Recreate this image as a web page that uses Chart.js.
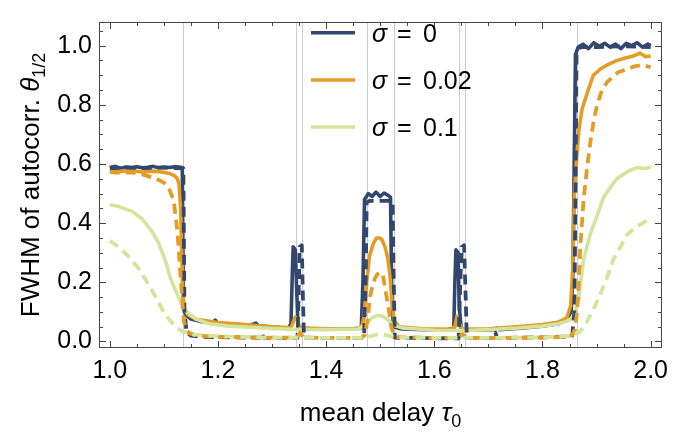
<!DOCTYPE html>
<html>
<head>
<meta charset="utf-8">
<script src="https://cdn.jsdelivr.net/npm/chart.js@4.4.1/dist/chart.umd.min.js"></script>
<style>
  body { margin: 0; background: #fff; }
  canvas { display: block; }
</style>
</head>
<body>
<canvas id="c1" width="695" height="437"></canvas>
<script>
// sigma values shown in the legend
var sigmas = ['0', '0.02', '0.1'];
var xTicks = [1.0, 1.2, 1.4, 1.6, 1.8, 2.0];
var yTicks = [0.0, 0.2, 0.4, 0.6, 0.8, 1.0];
// thin grey reference lines
var markX = [1.136, 1.344, 1.356, 1.475, 1.525, 1.645, 1.657, 1.864];

// sigma = 0, solid
var navySolidX = [1.000,1.010,1.020,1.030,1.040,1.050,1.060,1.070,1.080,1.090,1.100,1.110,1.120,1.130,1.134,1.136,1.140,1.150,1.170,1.190,1.195,1.200,1.230,1.260,1.270,1.275,1.300,1.330,1.335,1.337,1.339,1.343,1.346,1.348,1.360,1.400,1.440,1.465,1.468,1.471,1.478,1.485,1.492,1.500,1.507,1.514,1.519,1.521,1.524,1.540,1.580,1.620,1.636,1.638,1.640,1.644,1.646,1.650,1.680,1.710,1.715,1.720,1.760,1.800,1.830,1.845,1.853,1.856,1.858,1.861,1.866,1.875,1.885,1.895,1.905,1.915,1.925,1.935,1.945,1.955,1.965,1.975,1.985,1.995,2.000];
var navySolidY = [0.588,0.592,0.586,0.590,0.588,0.591,0.587,0.589,0.592,0.587,0.590,0.588,0.591,0.589,0.588,0.120,0.090,0.076,0.067,0.064,0.072,0.062,0.058,0.055,0.062,0.054,0.049,0.045,0.060,0.200,0.320,0.310,0.150,0.050,0.044,0.042,0.042,0.045,0.200,0.480,0.500,0.490,0.505,0.490,0.502,0.495,0.488,0.200,0.050,0.042,0.040,0.039,0.045,0.200,0.310,0.300,0.120,0.040,0.038,0.040,0.046,0.040,0.045,0.052,0.060,0.075,0.100,0.200,0.500,0.970,0.995,1.005,0.990,1.010,0.998,1.008,0.995,1.005,0.990,1.008,1.000,1.010,0.995,1.005,1.000];

// sigma = 0, dashed
var navyDashX = [1.000,1.030,1.060,1.090,1.120,1.136,1.138,1.142,1.150,1.170,1.200,1.250,1.278,1.281,1.284,1.300,1.340,1.347,1.349,1.351,1.355,1.357,1.359,1.400,1.440,1.470,1.473,1.475,1.480,1.490,1.500,1.510,1.520,1.523,1.525,1.527,1.560,1.600,1.645,1.648,1.651,1.655,1.658,1.660,1.700,1.710,1.713,1.716,1.760,1.800,1.840,1.855,1.859,1.861,1.863,1.870,1.900,1.950,2.000];
var navyDashY = [0.585,0.588,0.586,0.588,0.586,0.585,0.100,0.030,0.020,0.016,0.015,0.013,0.013,0.030,0.013,0.012,0.012,0.012,0.150,0.320,0.325,0.150,0.013,0.012,0.012,0.012,0.200,0.470,0.475,0.475,0.475,0.475,0.475,0.470,0.200,0.013,0.012,0.011,0.011,0.200,0.320,0.325,0.150,0.012,0.012,0.012,0.030,0.012,0.013,0.014,0.016,0.020,0.100,0.500,0.970,0.995,0.995,0.998,0.995];

// sigma = 0.02, solid
var orangeSolidX = [1.000,1.020,1.040,1.060,1.080,1.100,1.110,1.120,1.125,1.128,1.131,1.133,1.135,1.138,1.145,1.160,1.200,1.250,1.300,1.335,1.340,1.343,1.347,1.352,1.400,1.450,1.465,1.470,1.475,1.480,1.487,1.493,1.498,1.503,1.509,1.514,1.518,1.522,1.526,1.535,1.580,1.630,1.638,1.642,1.646,1.652,1.700,1.750,1.800,1.830,1.845,1.852,1.856,1.859,1.862,1.867,1.873,1.882,1.894,1.907,1.920,1.938,1.953,1.968,1.980,1.990,2.000];
var orangeSolidY = [0.578,0.575,0.578,0.573,0.576,0.572,0.568,0.560,0.550,0.530,0.450,0.300,0.160,0.110,0.090,0.075,0.064,0.057,0.050,0.046,0.070,0.082,0.070,0.046,0.043,0.042,0.046,0.080,0.200,0.287,0.330,0.350,0.350,0.345,0.319,0.280,0.224,0.130,0.070,0.050,0.043,0.041,0.050,0.085,0.060,0.042,0.043,0.050,0.057,0.066,0.080,0.120,0.250,0.500,0.590,0.710,0.784,0.836,0.900,0.921,0.935,0.950,0.958,0.965,0.975,0.963,0.965];

// sigma = 0.02, dashed
var orangeDashX = [1.000,1.020,1.040,1.060,1.085,1.100,1.109,1.118,1.125,1.131,1.137,1.146,1.160,1.200,1.300,1.345,1.352,1.358,1.400,1.465,1.472,1.477,1.481,1.486,1.490,1.495,1.500,1.505,1.509,1.515,1.521,1.528,1.600,1.645,1.652,1.660,1.700,1.800,1.845,1.855,1.860,1.864,1.867,1.870,1.876,1.882,1.888,1.895,1.901,1.910,1.920,1.940,1.955,1.970,1.985,2.000];
var orangeDashY = [0.573,0.570,0.572,0.565,0.551,0.537,0.520,0.477,0.372,0.214,0.066,0.029,0.020,0.016,0.013,0.013,0.030,0.013,0.012,0.012,0.023,0.080,0.150,0.190,0.213,0.228,0.234,0.225,0.180,0.118,0.044,0.015,0.012,0.012,0.025,0.012,0.012,0.013,0.016,0.022,0.040,0.100,0.200,0.320,0.480,0.580,0.667,0.750,0.800,0.850,0.878,0.910,0.920,0.930,0.935,0.927];

// sigma = 0.1, solid
var greenSolidX = [1.000,1.017,1.041,1.060,1.078,1.091,1.103,1.112,1.122,1.131,1.140,1.159,1.183,1.220,1.260,1.300,1.340,1.400,1.460,1.475,1.485,1.495,1.505,1.515,1.525,1.540,1.600,1.640,1.660,1.700,1.750,1.800,1.830,1.845,1.855,1.862,1.867,1.870,1.876,1.888,1.901,1.913,1.925,1.938,1.956,1.974,1.990,2.000];
var greenSolidY = [0.462,0.456,0.440,0.414,0.372,0.330,0.272,0.214,0.171,0.134,0.103,0.076,0.060,0.052,0.048,0.044,0.041,0.040,0.042,0.060,0.080,0.088,0.085,0.072,0.055,0.046,0.038,0.037,0.037,0.040,0.045,0.052,0.060,0.068,0.080,0.110,0.140,0.190,0.277,0.361,0.425,0.488,0.520,0.551,0.573,0.588,0.585,0.590];

// sigma = 0.1, dashed
var greenDashX = [1.000,1.017,1.035,1.054,1.072,1.085,1.097,1.109,1.122,1.134,1.157,1.200,1.300,1.470,1.490,1.500,1.510,1.530,1.700,1.800,1.851,1.870,1.882,1.894,1.907,1.919,1.931,1.944,1.956,1.974,1.993,2.000];
var greenDashY = [0.340,0.319,0.287,0.245,0.192,0.150,0.108,0.076,0.050,0.034,0.023,0.018,0.013,0.012,0.022,0.025,0.022,0.013,0.012,0.014,0.018,0.034,0.066,0.108,0.161,0.214,0.277,0.319,0.361,0.388,0.409,0.400];

var navy = '#33476e';
var orange = '#e39d26';
var green = '#d4e49b';
var fontFamily = '"Liberation Sans", Arial, sans-serif';

function makeSet(label, xs, ys, color, dashed, order) {
    return {
        label: label,
        data: xs.map(function (x, i) { return { x: x, y: ys[i] }; }),
        borderColor: color,
        borderWidth: dashed ? 3.8 : 3.6,
        borderDash: dashed ? [10, 6] : [],
        borderCapStyle: 'butt',
        borderJoinStyle: 'round',
        pointRadius: 0,
        tension: 0,
        fill: false,
        order: order
    };
}

// draws a run of text pieces (for italic symbols and subscripts), centred at x
function drawRich(ctx, parts, cx, y) {
    var total = 0;
    parts.forEach(function (p) { ctx.font = p.font; total += ctx.measureText(p.text).width; });
    var x = cx - total / 2;
    parts.forEach(function (p) {
        ctx.font = p.font;
        ctx.fillText(p.text, x, y + (p.dy || 0));
        x += ctx.measureText(p.text).width;
    });
}

var framePlugin = {
    id: 'frame',
    beforeDatasetsDraw: function (chart) {
        var ctx = chart.ctx, a = chart.chartArea, xs = chart.scales.x;
        ctx.save();
        ctx.strokeStyle = '#cccccc';
        ctx.lineWidth = 1;
        markX.forEach(function (v) {
            var px = Math.round(xs.getPixelForValue(v)) + 0.5;
            ctx.beginPath();
            ctx.moveTo(px, a.top);
            ctx.lineTo(px, a.bottom);
            ctx.stroke();
        });
        ctx.restore();
    },
    afterDraw: function (chart) {
        var ctx = chart.ctx, a = chart.chartArea;
        var xs = chart.scales.x, ys = chart.scales.y;
        ctx.save();
        ctx.strokeStyle = '#454545';
        ctx.lineWidth = 1;
        ctx.strokeRect(a.left + 0.5, a.top + 0.5, a.right - a.left - 1, a.bottom - a.top - 1);
        ctx.beginPath();
        for (var i = 0; i <= 20; i++) {
            var v = 1 + i * 0.05;
            var px = Math.round(xs.getPixelForValue(v)) + 0.5;
            var len = (i % 4 === 0) ? 7 : 4;
            ctx.moveTo(px, a.bottom); ctx.lineTo(px, a.bottom - len);
            ctx.moveTo(px, a.top); ctx.lineTo(px, a.top + len);
        }
        for (var j = 0; j <= 21; j++) {
            var w = j * 0.05;
            var py = Math.round(ys.getPixelForValue(w)) + 0.5;
            var l2 = (j % 4 === 0) ? 7 : 4;
            ctx.moveTo(a.left, py); ctx.lineTo(a.left + l2, py);
            ctx.moveTo(a.right, py); ctx.lineTo(a.right - l2, py);
        }
        ctx.stroke();

        // axis titles
        ctx.fillStyle = '#000';
        ctx.textBaseline = 'alphabetic';
        ctx.textAlign = 'left';
        drawRich(ctx, [
            { text: 'mean delay ', font: '26px ' + fontFamily },
            { text: 'τ', font: 'italic 26px ' + fontFamily },
            { text: '0', font: '18px ' + fontFamily, dy: 6 }
        ], (a.left + a.right) / 2, 421);
        ctx.save();
        ctx.translate(39, (a.top + a.bottom) / 2);
        ctx.rotate(-Math.PI / 2);
        drawRich(ctx, [
            { text: 'FWHM of autocorr. ', font: '26px ' + fontFamily },
            { text: 'θ', font: 'italic 26px ' + fontFamily },
            { text: '1/2', font: '18px ' + fontFamily, dy: 6 }
        ], 0, 0);
        ctx.restore();

        // legend
        var colors = [navy, orange, green];
        var rowY = [32.7, 80, 127];
        sigmas.forEach(function (s, k) {
            ctx.strokeStyle = colors[k];
            ctx.lineWidth = 3.4;
            ctx.beginPath();
            ctx.moveTo(311, rowY[k]);
            ctx.lineTo(355, rowY[k]);
            ctx.stroke();
            var base = rowY[k] + 9;
            ctx.font = 'italic 25px ' + fontFamily;
            ctx.fillText('σ', 372, base);
            ctx.font = '25px ' + fontFamily;
            ctx.fillText('=', 397, base);
            ctx.fillText(s, 423, base);
        });
        ctx.restore();
    }
};

var tickFont = { family: fontFamily, size: 25 };

var ctx = document.getElementById('c1');
var myChart = new Chart(ctx, {
    type: 'line',
    data: {
        datasets: [
            makeSet('σ = 0', navySolidX, navySolidY, navy, false, 5),
            makeSet('σ = 0.02', orangeSolidX, orangeSolidY, orange, false, 4),
            makeSet('σ = 0.1', greenSolidX, greenSolidY, green, false, 3),
            makeSet('σ = 0 (dashed)', navyDashX, navyDashY, navy, true, 2),
            makeSet('σ = 0.02 (dashed)', orangeDashX, orangeDashY, orange, true, 1),
            makeSet('σ = 0.1 (dashed)', greenDashX, greenDashY, green, true, 0)
        ]
    },
    options: {
        responsive: false,
        animation: false,
        layout: { padding: { top: 0, right: 33, left: 0, bottom: 0 } },
        plugins: {
            legend: { display: false },
            tooltip: { enabled: false }
        },
        scales: {
            x: {
                type: 'linear',
                min: 0.98,
                max: 2.021,
                afterFit: function (s) { s.height = 89; },
                afterBuildTicks: function (s) { s.ticks = xTicks.map(function (v) { return { value: v }; }); },
                ticks: {
                    font: tickFont,
                    color: '#000',
                    padding: 8,
                    maxRotation: 0,
                    autoSkip: false,
                    callback: function (v) { return v.toFixed(1); }
                },
                grid: { display: false, drawTicks: false },
                border: { display: false }
            },
            y: {
                type: 'linear',
                min: -0.022,
                max: 1.08,
                afterFit: function (s) { s.width = 99; },
                afterBuildTicks: function (s) { s.ticks = yTicks.map(function (v) { return { value: v }; }); },
                ticks: {
                    font: tickFont,
                    color: '#000',
                    padding: 7,
                    autoSkip: false,
                    callback: function (v) { return Math.abs(v).toFixed(1); }
                },
                grid: { display: false, drawTicks: false },
                border: { display: false }
            }
        }
    },
    plugins: [framePlugin]
});
</script>
</body>
</html>
